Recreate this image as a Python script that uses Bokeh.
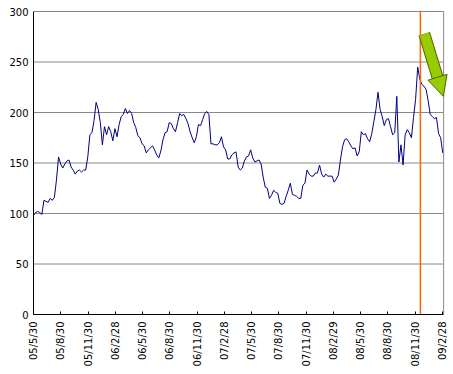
import math
import pandas as pd
from bokeh.plotting import figure
from bokeh.models import Range1d, FixedTicker, Span, Arrow, NormalHead
from bokeh.embed import file_html
from bokeh.resources import INLINE

# ---- data (weekly samples) ----
start_date = "2005-05-30"
values = [
    98, 101, 102, 101, 99, 113, 112, 111, 115, 113,
    116, 133, 156, 149, 145, 149, 152, 153, 146, 143,
    139, 142, 143, 141, 143, 143, 156, 178, 180, 192,
    210, 203, 190, 168, 186, 178, 186, 181, 172, 184,
    176, 188, 196, 198, 204, 199, 202, 199, 190, 185,
    177, 175, 169, 167, 160, 163, 165, 167, 163, 158,
    155, 162, 173, 180, 181, 190, 189, 184, 181, 190,
    199, 197, 198, 194, 189, 181, 175, 170, 176, 188,
    187, 193, 199, 201, 198, 169, 169, 168, 168, 170,
    176, 166, 163, 154, 154, 158, 160, 161, 146, 143,
    145, 152, 156, 157, 163, 155, 151, 152, 153, 149,
    136, 126, 125, 115, 118, 123, 121, 120, 110, 109,
    110, 117, 123, 130, 119, 118, 117, 115, 115, 128,
    130, 143, 139, 137, 137, 140, 140, 148, 139, 136,
    139, 137, 137, 137, 131, 134, 138, 153, 166, 173,
    174, 171, 167, 164, 165, 157, 161, 181, 178, 179,
    174, 171, 179, 191, 203, 220, 203, 196, 187, 193,
    194, 186, 178, 180, 216, 151, 168, 148, 178, 183,
    180, 175, 195, 213, 245, 233, 228, 226, 223, 212,
    198, 196, 194, 195, 179, 175, 160,
]
tick_dates = [
    "2005-05-30", "2005-08-30", "2005-11-30", "2006-02-28",
    "2006-05-30", "2006-08-30", "2006-11-30", "2007-02-28",
    "2007-05-30", "2007-08-30", "2007-11-30", "2008-02-29",
    "2008-05-30", "2008-08-30", "2008-11-30", "2009-02-28",
]
tick_labels = [
    "05/5/30", "05/8/30", "05/11/30", "06/2/28",
    "06/5/30", "06/8/30", "06/11/30", "07/2/28",
    "07/5/30", "07/8/30", "07/11/30", "08/2/29",
    "08/5/30", "08/8/30", "08/11/30", "09/2/28",
]
y_ticks = [0, 50, 100, 150, 200, 250, 300]
y_max = 300
x_end_date = "2009-03-05"      # right edge of the plot box
view_end_date = "2009-03-28"   # a little room so the arrow head is not cut
event_date = "2008-12-17"
arrow_from = ("2008-12-30", 278)
arrow_to = ("2009-03-04", 216)

# ---- helpers ----
t0 = pd.Timestamp(start_date)


def day(d):
    return int((pd.Timestamp(d) - t0).days)


dates = pd.date_range(start_date, periods=len(values), freq="7D")
xs = [int((d - t0).days) for d in dates]
x_end = day(x_end_date)

p = figure(
    width=450, height=372,
    output_backend="svg", toolbar_location=None,
    x_range=Range1d(0, day(view_end_date)), y_range=Range1d(0, y_max + 1),
    min_border_left=33, min_border_right=0, min_border_top=10, min_border_bottom=58,
    background_fill_color="white", border_fill_color="white",
)
p.outline_line_color = None

# axes
p.xaxis.ticker = FixedTicker(ticks=[day(d) for d in tick_dates])
p.xaxis.major_label_overrides = {day(d): lab for d, lab in zip(tick_dates, tick_labels)}
p.xaxis.major_label_orientation = math.pi / 2
p.xaxis.major_tick_in = 3
p.xaxis.major_tick_out = 0
p.xaxis.minor_tick_line_color = None
p.xaxis.major_label_standoff = 7
p.xaxis.bounds = (0, x_end)

p.yaxis.ticker = FixedTicker(ticks=y_ticks)
p.yaxis.major_tick_in = 0
p.yaxis.major_tick_out = 0
p.yaxis.minor_tick_line_color = None
p.yaxis.major_label_standoff = 5
p.yaxis.bounds = (0, y_max)

for ax in (p.xaxis, p.yaxis):
    ax.axis_line_color = "black"
    ax.axis_line_width = 1
    ax.major_tick_line_color = "black"
    ax.major_label_text_font = "DejaVu Sans"
    ax.major_label_text_font_size = "10px"
    ax.major_label_text_color = "black"

p.xgrid.visible = False
p.ygrid.visible = False

# horizontal gridlines and the right edge of the plot box
grid_y = [t for t in y_ticks if t > 0]
p.segment(x0=[0] * len(grid_y), y0=grid_y, x1=[x_end] * len(grid_y), y1=grid_y,
          line_color="#888888", line_width=1)
p.segment(x0=[x_end], y0=[0], x1=[x_end], y1=[y_max],
          line_color="#888888", line_width=1)

# series
p.line(xs, values, line_color="#000080", line_width=1)

# event marker
p.segment(x0=[day(event_date)], y0=[0], x1=[day(event_date)], y1=[y_max + 1],
          line_color="#FF6600", line_width=1.5)

# block arrow
ax0, ay0 = day(arrow_from[0]), arrow_from[1]
ax1, ay1 = day(arrow_to[0]), arrow_to[1]
f = 0.74
bx, by = ax0 + f * (ax1 - ax0), ay0 + f * (ay1 - ay0)
f2 = 0.68
hx, hy = ax0 + f2 * (ax1 - ax0), ay0 + f2 * (ay1 - ay0)
p.add_layout(Arrow(x_start=ax0, y_start=ay0, x_end=bx, y_end=by, end=None,
                   line_color="#4d6600", line_width=12, line_cap="butt"))
p.add_layout(Arrow(x_start=ax0, y_start=ay0, x_end=bx, y_end=by, end=None,
                   line_color="#99CC00", line_width=10, line_cap="butt"))
p.add_layout(Arrow(x_start=hx, y_start=hy, x_end=ax1, y_end=ay1,
                   line_alpha=0, line_width=1,
                   end=NormalHead(size=20, fill_color="#99CC00",
                                  line_color="#4d6600", line_width=1)))

open("out.html", "w").write(file_html(p, INLINE))
